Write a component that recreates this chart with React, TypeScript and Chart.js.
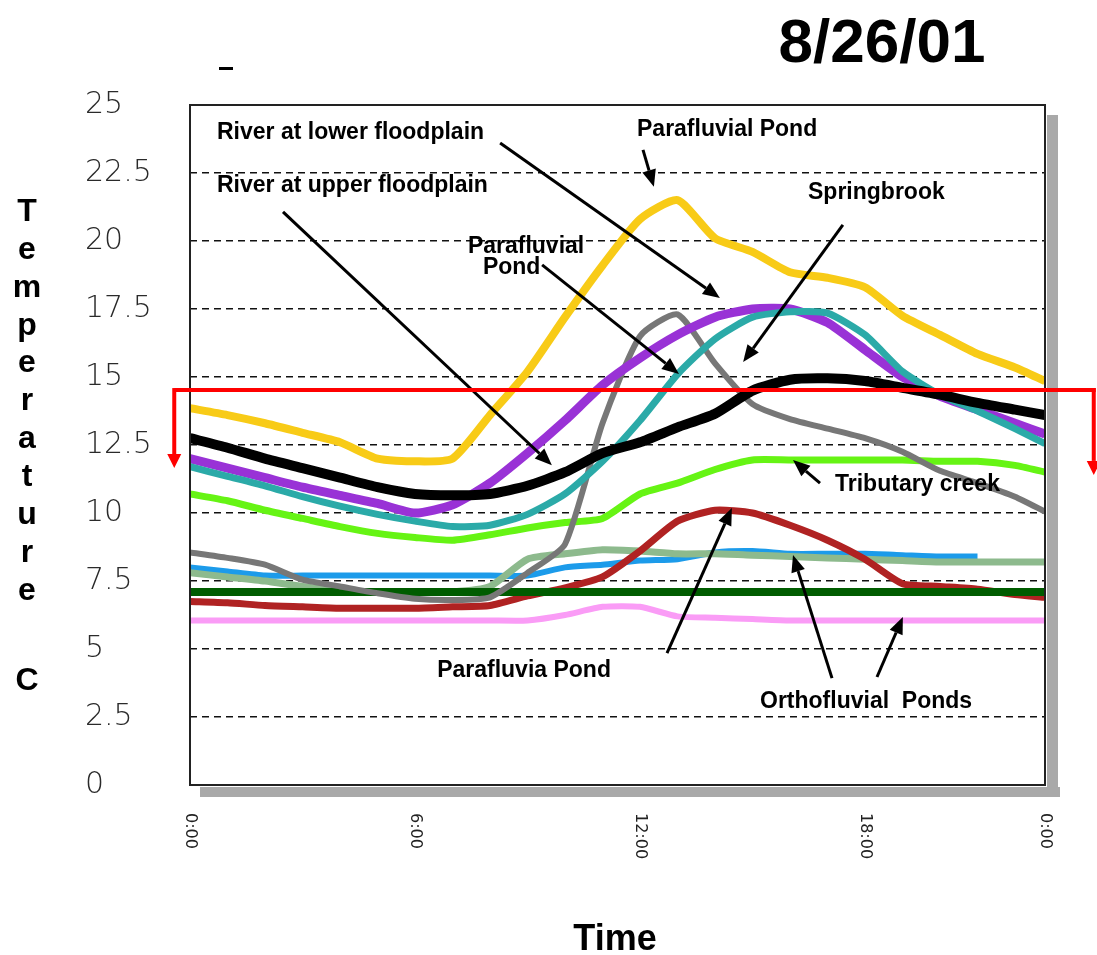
import React, { useEffect, useRef } from "react";
import { Chart, registerables } from "chart.js";

Chart.register(...registerables);

// ---------- data ----------
const HOURS = [0, 1, 2, 3, 4, 5, 6, 7, 8, 9, 10, 11, 12, 13, 14, 15, 16, 17, 18, 19, 20, 21, 22, 22.8];
const X_TICK_VALUES = [0, 6, 12, 18, 22.8];
const X_TICK_LABELS = ["0:00", "6:00", "12:00", "18:00", "0:00"];
const Y_TICKS = [0, 2.5, 5, 7.5, 10, 12.5, 15, 17.5, 20, 22.5, 25];
const Y_TICK_LABELS = ["0", "2.5", "5", "7.5", "10", "12.5", "15", "17.5", "20", "22.5", "25"];

const parafluvialPondYellow = [13.85, 13.6, 13.3, 12.95, 12.6, 12.0, 11.9, 12.0, 13.6, 15.2, 17.2, 19.1, 20.8, 21.5, 20.1, 19.6, 18.85, 18.65, 18.3, 17.25, 16.55, 15.85, 15.35, 14.85];
const riverLowerPurple = [12.0, 11.65, 11.3, 10.95, 10.65, 10.35, 10.0, 10.3, 11.1, 12.2, 13.4, 14.7, 15.7, 16.55, 17.2, 17.5, 17.5, 17.0, 16.0, 15.0, 14.3, 13.8, 13.3, 12.9];
const springbrookTeal = [11.7, 11.35, 11.0, 10.6, 10.25, 9.95, 9.7, 9.5, 9.55, 9.95, 10.7, 11.9, 13.4, 15.1, 16.4, 17.2, 17.4, 17.35, 16.55, 15.2, 14.35, 13.75, 13.1, 12.55];
const riverUpperBlack = [12.75, 12.4, 12.0, 11.65, 11.3, 10.95, 10.7, 10.65, 10.7, 11.0, 11.5, 12.2, 12.6, 13.15, 13.65, 14.5, 14.9, 14.95, 14.85, 14.6, 14.35, 14.05, 13.8, 13.6];
const tributaryCreekLime = [10.7, 10.45, 10.1, 9.8, 9.5, 9.25, 9.1, 9.0, 9.2, 9.45, 9.65, 9.8, 10.7, 11.1, 11.6, 11.95, 11.95, 11.95, 11.95, 11.95, 11.9, 11.9, 11.75, 11.5];
const parafluvialPondGray = [8.55, 8.35, 8.1, 7.55, 7.3, 7.05, 6.85, 6.8, 6.9, 7.8, 8.85, 13.3, 16.5, 17.3, 15.5, 14.0, 13.45, 13.1, 12.75, 12.25, 11.55, 11.1, 10.6, 10.05];
const orthoPondBlue = [8.0, 7.85, 7.7, 7.7, 7.7, 7.7, 7.7, 7.7, 7.7, 7.7, 8.0, 8.1, 8.25, 8.3, 8.55, 8.6, 8.5, 8.5, 8.5, 8.45, 8.4, 8.4, null, null];
const orthoPondSage = [7.8, 7.65, 7.5, 7.3, 7.15, 7.1, 7.1, 7.1, 7.3, 8.3, 8.5, 8.65, 8.6, 8.5, 8.5, 8.45, 8.4, 8.35, 8.3, 8.25, 8.2, 8.2, 8.2, 8.2];
const orthoPondDarkGreen = [7.1, 7.1, 7.1, 7.1, 7.1, 7.1, 7.1, 7.1, 7.1, 7.1, 7.1, 7.1, 7.1, 7.1, 7.1, 7.1, 7.1, 7.1, 7.1, 7.1, 7.1, 7.1, 7.1, 7.1];
const parafluviaPondRed = [6.75, 6.7, 6.6, 6.55, 6.5, 6.5, 6.5, 6.55, 6.6, 6.95, 7.25, 7.65, 8.6, 9.7, 10.1, 10.0, 9.55, 9.0, 8.3, 7.4, 7.3, 7.2, 7.0, 6.9];
const orthoPondPink = [6.05, 6.05, 6.05, 6.05, 6.05, 6.05, 6.05, 6.05, 6.05, 6.05, 6.25, 6.55, 6.55, 6.2, 6.15, 6.1, 6.05, 6.05, 6.05, 6.05, 6.05, 6.05, 6.05, 6.05];

const TITLE = "8/26/01";
const X_TITLE = "Time";
const Y_TITLE = "Temperature C";

// annotation texts: [text, hour, temperature] (left edge, vertical middle)
const NOTE_TEXTS: [string, number, number][] = [
  ["River at lower floodplain", 0.72, 23.97],
  ["River at upper floodplain", 0.72, 22.02],
  ["Parafluvial Pond", 11.92, 24.08],
  ["Parafluvial", 7.41, 19.78],
  ["Pond", 7.81, 19.01],
  ["Springbrook", 16.48, 21.76],
  ["Tributary creek", 17.2, 11.03],
  ["Parafluvia Pond", 6.59, 4.19],
  ["Orthofluvial  Ponds", 15.2, 3.05],
];
// arrows: [fromHour, fromTemp, toHour, toTemp]
const NOTE_ARROWS: [number, number, number, number][] = [
  [8.27, 23.6, 14.13, 17.9],
  [2.48, 21.07, 9.65, 11.76],
  [12.08, 23.35, 12.37, 21.99],
  [9.39, 19.12, 13.04, 15.11],
  [17.41, 20.59, 14.75, 15.55],
  [16.8, 11.1, 16.08, 11.95],
  [12.72, 4.85, 14.45, 10.18],
  [17.12, 3.93, 16.08, 8.46],
  [18.32, 3.97, 19.01, 6.18],
];
// red bracket: level, left/right hour, left/right arrow tip temperature
const RED_LEVEL = 14.52;
const RED_LEFT_H = -0.42;
const RED_RIGHT_H = 24.1;
const RED_LEFT_TIP = 11.65;
const RED_RIGHT_TIP = 11.4;

const SERIES = [
  { label: "River at upper floodplain", data: riverUpperBlack, color: "#000000", width: 10 },
  { label: "Springbrook", data: springbrookTeal, color: "#2BAAA8", width: 7 },
  { label: "River at lower floodplain", data: riverLowerPurple, color: "#9932D6", width: 9 },
  { label: "Parafluvial Pond", data: parafluvialPondYellow, color: "#F8CB17", width: 8 },
  { label: "Parafluvial Pond 2", data: parafluvialPondGray, color: "#777777", width: 6 },
  { label: "Tributary creek", data: tributaryCreekLime, color: "#66F414", width: 7 },
  { label: "Orthofluvial Pond dark", data: orthoPondDarkGreen, color: "#005C00", width: 8 },
  { label: "Parafluvia Pond", data: parafluviaPondRed, color: "#B02222", width: 7 },
  { label: "Orthofluvial Pond sage", data: orthoPondSage, color: "#8DBA8D", width: 7 },
  { label: "Orthofluvial Pond blue", data: orthoPondBlue, color: "#1C9BEA", width: 6 },
  { label: "Orthofluvial Pond pink", data: orthoPondPink, color: "#FA9CF6", width: 6 },
];

function drawArrow(ctx: CanvasRenderingContext2D, x1: number, y1: number, x2: number, y2: number, color: string, lw: number, headLen: number, headW: number) {
  const ang = Math.atan2(y2 - y1, x2 - x1);
  const bx = x2 - headLen * Math.cos(ang);
  const by = y2 - headLen * Math.sin(ang);
  ctx.strokeStyle = color;
  ctx.lineWidth = lw;
  ctx.beginPath();
  ctx.moveTo(x1, y1);
  ctx.lineTo(bx, by);
  ctx.stroke();
  ctx.fillStyle = color;
  ctx.beginPath();
  ctx.moveTo(x2, y2);
  ctx.lineTo(bx + headW * Math.sin(ang), by - headW * Math.cos(ang));
  ctx.lineTo(bx - headW * Math.sin(ang), by + headW * Math.cos(ang));
  ctx.closePath();
  ctx.fill();
}

const decorPlugin = {
  id: "decor",
  beforeDatasetsDraw(chart: any) {
    const { ctx, chartArea: a } = chart;
    ctx.save();
    ctx.fillStyle = "#A9A9A9";
    ctx.fillRect(a.right + 2, a.top + 10, 11, a.bottom - a.top + 2);
    ctx.fillRect(a.left + 10, a.bottom + 2, a.right - a.left + 5, 10);
    ctx.restore();
  },
  afterDatasetsDraw(chart: any) {
    const { ctx, chartArea: a, scales } = chart;
    const xs = scales.x;
    const ys = scales.y;
    ctx.save();
    // frame
    ctx.lineWidth = 2;
    ctx.strokeStyle = "#222";
    ctx.strokeRect(a.left, a.top, a.right - a.left, a.bottom - a.top);
    // annotation texts
    ctx.fillStyle = "#000";
    ctx.font = "bold 23px 'Liberation Sans', Arial, sans-serif";
    ctx.textAlign = "left";
    ctx.textBaseline = "middle";
    for (const [t, h, v] of NOTE_TEXTS) {
      ctx.fillText(t, xs.getPixelForValue(h), ys.getPixelForValue(v));
    }
    for (const [h1, v1, h2, v2] of NOTE_ARROWS) {
      drawArrow(ctx, xs.getPixelForValue(h1), ys.getPixelForValue(v1), xs.getPixelForValue(h2), ys.getPixelForValue(v2), "#000", 3, 17, 7);
    }
    // red bracket
    const yl = ys.getPixelForValue(RED_LEVEL);
    const xl = xs.getPixelForValue(RED_LEFT_H);
    const xr = xs.getPixelForValue(RED_RIGHT_H);
    ctx.strokeStyle = "#FF0000";
    ctx.lineWidth = 4;
    ctx.beginPath();
    ctx.moveTo(xl, yl);
    ctx.lineTo(xr + 2, yl);
    ctx.stroke();
    drawArrow(ctx, xl, yl - 2, xl, ys.getPixelForValue(RED_LEFT_TIP), "#FF0000", 4, 14, 7);
    drawArrow(ctx, xr, yl - 2, xr, ys.getPixelForValue(RED_RIGHT_TIP), "#FF0000", 4, 14, 7);
    ctx.restore();
  },
  afterDraw(chart: any) {
    const { ctx, chartArea: a, scales } = chart;
    const xs = scales.x;
    ctx.save();
    // x tick labels (rotated clockwise)
    ctx.fillStyle = "#222";
    ctx.font = "16px 'DejaVu Sans', sans-serif";
    ctx.textAlign = "left";
    ctx.textBaseline = "middle";
    X_TICK_VALUES.forEach((v, i) => {
      ctx.save();
      ctx.translate(xs.getPixelForValue(v), a.bottom + 28);
      ctx.rotate(Math.PI / 2);
      ctx.fillText(X_TICK_LABELS[i], 0, 0);
      ctx.restore();
    });
    // title
    ctx.fillStyle = "#000";
    ctx.font = "bold 62px 'Liberation Sans', Arial, sans-serif";
    ctx.textAlign = "center";
    ctx.textBaseline = "alphabetic";
    ctx.fillText(TITLE, 882, 62);
    // small stray dash under title area
    ctx.fillRect(219, 67, 14, 3);
    // x title
    ctx.font = "bold 36px 'Liberation Sans', Arial, sans-serif";
    ctx.textBaseline = "middle";
    ctx.fillText(X_TITLE, 615, 940);
    // y title, stacked letters
    ctx.font = "bold 32px 'Liberation Sans', Arial, sans-serif";
    let y = 212;
    for (const ch of Y_TITLE) {
      if (ch === " ") {
        y += 52;
        continue;
      }
      ctx.fillText(ch, 27, y);
      y += 37.9;
    }
    ctx.restore();
  },
};

export default function App() {
  const canvasRef = useRef<HTMLCanvasElement | null>(null);

  useEffect(() => {
    const canvas = canvasRef.current;
    if (!canvas) return;
    const chart = new Chart(canvas, {
      type: "line",
      data: {
        datasets: SERIES.map((s, i) => ({
          label: s.label,
          data: HOURS.map((h, k) => ({ x: h, y: s.data[k] })),
          borderColor: s.color,
          backgroundColor: s.color,
          borderWidth: s.width,
          pointRadius: 0,
          tension: 0.2,
          fill: false,
          spanGaps: false,
          order: i,
        })),
      },
      options: {
        responsive: false,
        animation: false,
        events: [],
        layout: { padding: { left: 85, top: 105, right: 52, bottom: 170 } },
        plugins: {
          legend: { display: false },
          tooltip: { enabled: false },
          title: { display: false },
        },
        scales: {
          x: {
            type: "linear",
            min: 0,
            max: 22.8,
            grid: { display: false },
            border: { display: false },
            ticks: { display: false },
            afterFit(s: any) {
              s.height = 0;
            },
          },
          y: {
            min: 0,
            max: 25,
            afterBuildTicks(s: any) {
              s.ticks = Y_TICKS.map((v) => ({ value: v }));
            },
            afterFit(s: any) {
              s.width = 105;
            },
            ticks: {
              crossAlign: "far",
              color: "#2A2A2A",
              font: { family: "'DejaVu Sans', sans-serif", size: 30, weight: "200" as any },
              callback: (v: any) => {
                const i = Y_TICKS.indexOf(Number(v));
                return i >= 0 ? Y_TICK_LABELS[i] : String(v);
              },
            },
            grid: {
              drawTicks: false,
              lineWidth: 1.5,
              color: (c: any) => (c.tick && (c.tick.value === 0 || c.tick.value === 25) ? "rgba(0,0,0,0)" : "#111"),
            },
            border: { display: false, dash: [7, 5] },
          },
        },
      },
      plugins: [decorPlugin],
    });
    return () => chart.destroy();
  }, []);

  return (
    <div style={{ position: "fixed", left: 0, top: 0, width: 1097, height: 955, overflow: "hidden" }}>
      <canvas ref={canvasRef} width={1097} height={955} style={{ display: "block", width: 1097, height: 955 }} />
    </div>
  );
}
